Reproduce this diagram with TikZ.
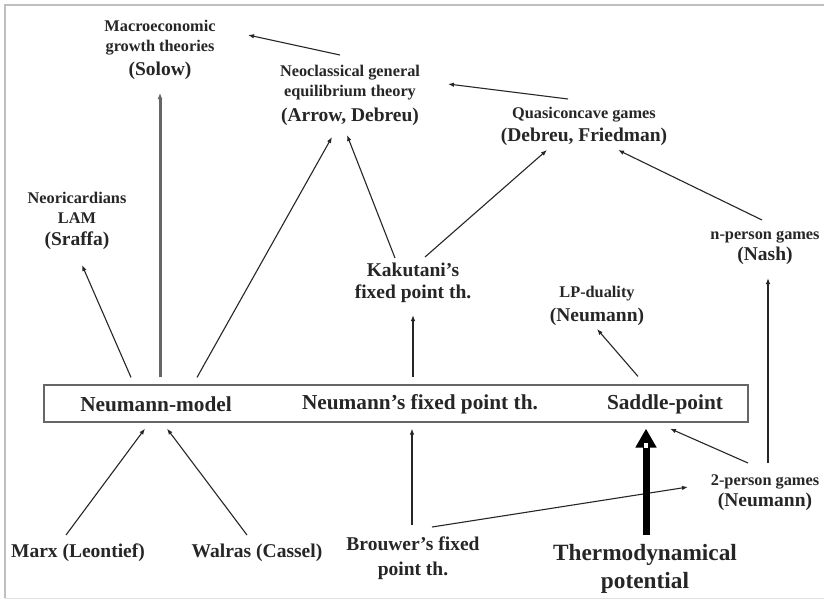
\documentclass[tikz,border=0pt]{standalone}
\usepackage{fontspec}
\setmainfont{Liberation Serif}
\usetikzlibrary{arrows.meta,calc}
\newcommand\fsA{\fontsize{16.3}{20}\selectfont}
\newcommand\fsB{\fontsize{19.5}{24}\selectfont}
\newcommand\fsC{\fontsize{21.3}{25}\selectfont}
\newcommand\fsD{\fontsize{23.3}{28}\selectfont}
\begin{document}
\begin{tikzpicture}[x=1pt,y=-1pt,
  lbl/.style={align=center,inner sep=0pt,text=black!85},
  sm/.style={font=\bfseries\fontsize{16.3}{20}\selectfont},
  arr/.style={draw=black!85,line width=1.1pt,-{Latex[length=6pt,width=4.5pt]}},
  growth/.style={draw=black!60,line width=3pt,-{Latex[length=6pt,width=5pt]}},
  heavy/.style={draw=black,line width=7pt,-{Triangle[length=19pt,width=20pt]}},
  ]
\useasboundingbox (0,0) rectangle (824,600);
\fill[white] (0,0) rectangle (824,600);
\draw[black!25,line width=1.5pt] (5,598) -- (5,5) -- (824,5);
\draw[black!12,line width=1pt] (5,598) -- (824,598);

% upper labels
\node[lbl,sm] (macro) at (160,50) {Macroeconomic\\growth theories\\[4pt]\fsB (Solow)};
\node[lbl,sm] (neo) at (350,95) {Neoclassical general\\equilibrium theory\\[5pt]\fsB (Arrow, Debreu)};
\node[lbl,sm] (quasi) at (584,126) {Quasiconcave games\\[3pt]\fsB (Debreu, Friedman)};
\node[lbl,sm] (sraffa) at (77,221) {Neoricardians\\LAM\\[2pt]\fsB (Sraffa)};
\node[lbl,sm] (nash) at (765,248) {n-person games\\[1pt]\fsB (Nash)};
\node[lbl,font=\bfseries\fontsize{19.5}{22.5}\selectfont] (kak) at (413,283) {Kakutani's\\fixed point th.};
\node[lbl,sm] (lp) at (597,306) {LP-duality\\[4pt]\fsB (Neumann)};

% central box
\node[draw=black!60,line width=1.2pt,minimum width=704pt,minimum height=37pt,inner sep=0pt] (box) at (396,403.5) {};
\node[lbl,font=\bfseries\fsC] (nm) at (156,404) {Neumann-model};
\node[lbl,font=\bfseries\fsC] (nfp) at (420,404) {Neumann's fixed point th.};
\node[lbl,font=\bfseries\fsC] (sp) at (665,404) {Saddle-point};

% lower labels
\node[lbl,font=\bfseries\fsB] (marx) at (78,553) {Marx (Leontief)};
\node[lbl,font=\bfseries\fsB] (walras) at (257,553) {Walras (Cassel)};
\node[lbl,font=\bfseries\fontsize{19.5}{25}\selectfont] (brouwer) at (413,558) {Brouwer's fixed\\point th.};
\node[lbl,font=\bfseries\fsD] (thermo) at (645,569) {Thermodynamical\\potential};
\node[lbl,sm] (twop) at (765,493) {2-person games\\[1pt]\fsB (Neumann)};

% connectors
\draw[arr] ([shift={(-10,-40)}]neo.center) -- ([shift={(88,-15)}]macro.center);
\draw[arr] ([shift={(-16,-27)}]quasi.center) -- ([shift={(98,-11)}]neo.center);
\draw[arr] ([shift={(-265,-7)}]box.north) -- ([shift={(5,44)}]sraffa.center);
\draw[growth] ([shift={(0,-7)}]box.north -| macro.center) -- ([shift={(0,43)}]macro.center);
\draw[arr] ([shift={(-199,-7)}]box.north) -- ([shift={(-18,42)}]neo.center);
\draw[arr] ([shift={(-18,-25)}]kak.center) -- ([shift={(-3,40)}]neo.center);
\draw[arr] ([shift={(12,-26)}]kak.center) -- ([shift={(-37,24)}]quasi.center);
\draw[arr] ([shift={(-3,-28)}]nash.center) -- ([shift={(34,24)}]quasi.center);
\draw[arr] ([shift={(17,-7)}]box.north) -- ([shift={(0,32)}]kak.center);
\draw[arr] ([shift={(242,-8)}]box.north) -- ([shift={(0,23)}]lp.center);
\draw[arr] ([shift={(3,-30)}]twop.center) -- ([shift={(3,30)}]nash.center);
\draw[arr] ([shift={(-12,-18)}]marx.center) -- ([shift={(-251,6)}]box.south);
\draw[arr] ([shift={(-10,-18)}]walras.center) -- ([shift={(-229,6)}]box.south);
\draw[arr] ([shift={(-1,-33)}]brouwer.center) -- ([shift={(16,6)}]box.south);
\draw[arr] ([shift={(19,-31)}]brouwer.center) -- ([shift={(-77,-6)}]twop.center);
\draw[heavy] ([shift={(1,-34)}]thermo.center) -- ([shift={(250,6)}]box.south);
\fill[white] (644,443) rectangle (648,448);
\draw[arr] ([shift={(-17,-30)}]twop.center) -- ([shift={(274,6)}]box.south);
\end{tikzpicture}
\end{document}
